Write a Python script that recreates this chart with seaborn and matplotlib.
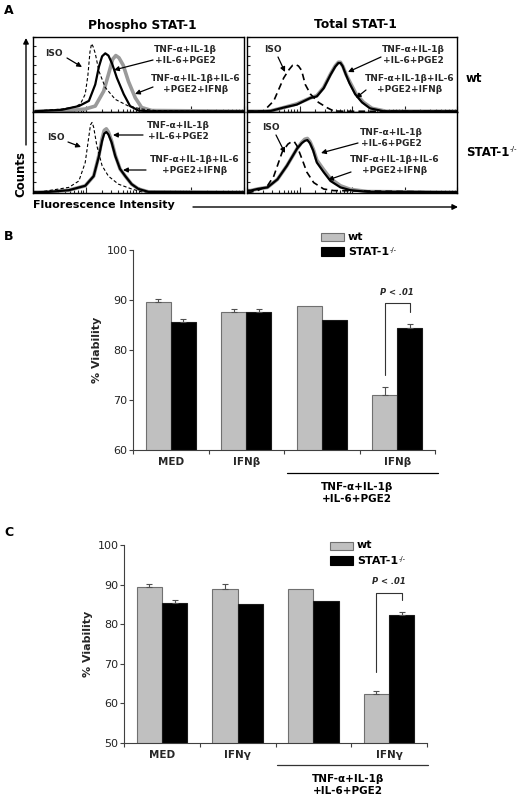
import numpy as np
import pandas as pd
import matplotlib
matplotlib.use('Agg')
import matplotlib.pyplot as plt
import seaborn as sns
from matplotlib.ticker import MultipleLocator, FixedLocator, NullFormatter

sns.set_style('white')
plt.rcParams['font.family'] = ['DejaVu Sans']

W, H = 528, 799

# ---------------- panel A data: x = log10 fluorescence, y = % of box height
# phospho STAT-1, wt
pw_iso_x = [0.0, 0.18, 0.55, 0.80, 0.90, 0.99, 1.04, 1.08, 1.11, 1.14, 1.18, 1.25, 1.37, 1.56, 1.81, 2.06, 2.31, 3.07, 4.0]
pw_iso_y = [0, 1, 3, 6, 10, 23, 48, 80, 91, 87, 78, 54, 32, 16, 7, 3, 1, 0, 0]
pw_blk_x = [0.05, 0.55, 0.87, 1.06, 1.18, 1.25, 1.31, 1.37, 1.43, 1.50, 1.59, 1.72, 1.84, 2.0, 2.19, 4.0]
pw_blk_y = [0, 2, 7, 14, 36, 60, 74, 78, 75, 64, 45, 23, 7, 1, 0, 0]
pw_gry_x = [0.05, 0.68, 0.99, 1.18, 1.34, 1.44, 1.51, 1.57, 1.63, 1.71, 1.81, 1.94, 2.06, 2.25, 4.0]
pw_gry_y = [0, 1, 3, 7, 27, 52, 70, 75, 72, 62, 40, 18, 5, 1, 0]
# total STAT-1, wt
tw_iso_x = [0.0, 0.20, 0.32, 0.51, 0.70, 0.80, 0.87, 0.92, 0.98, 1.04, 1.11, 1.21, 1.36, 1.52, 1.65, 1.84, 4.0]
tw_iso_y = [0, 0, 0.4, 14, 45, 56, 62, 63, 61, 55, 36, 23, 12, 5, 0.4, 0, 0]
tw_blk_x = [0.0, 0.32, 0.45, 0.70, 0.95, 1.21, 1.33, 1.46, 1.59, 1.68, 1.74, 1.78, 1.82, 1.88, 1.95, 2.06, 2.19, 2.34, 2.60, 4.0]
tw_blk_y = [0, 0, 0.4, 5, 9, 18, 20, 31, 49, 60, 65, 65, 61, 50, 38, 23, 12, 4, 0, 0]
tw_gry_x = [0.0, 0.30, 0.45, 0.70, 0.95, 1.21, 1.33, 1.46, 1.59, 1.68, 1.74, 1.78, 1.83, 1.89, 1.97, 2.08, 2.22, 2.38, 2.65, 4.0]
tw_gry_y = [0, 0, 0.5, 5, 10, 18, 21, 32, 50, 61, 66, 66, 60, 49, 38, 23, 12, 4, 0, 0]
# phospho STAT-1, STAT-1-/-
pk_iso_x = [0.0, 0.11, 0.30, 0.68, 0.87, 0.99, 1.06, 1.09, 1.12, 1.15, 1.21, 1.31, 1.43, 1.62, 1.87, 2.06, 4.0]
pk_iso_y = [0, 0, 2, 6, 14, 37, 70, 84, 87, 81, 58, 33, 20, 10, 4, 0.4, 0]
pk_blk_x = [0.0, 0.11, 0.30, 0.68, 0.99, 1.15, 1.25, 1.31, 1.35, 1.39, 1.43, 1.49, 1.56, 1.65, 1.75, 1.87, 2.0, 2.19, 4.0]
pk_blk_y = [0, 0, 0.4, 2.5, 8, 20, 45, 64, 73, 75, 72, 62, 45, 29, 20, 10, 4, 0.4, 0]
pk_gry_x = [0.0, 0.11, 0.30, 0.68, 0.99, 1.15, 1.25, 1.31, 1.35, 1.39, 1.43, 1.49, 1.56, 1.65, 1.75, 1.87, 2.0, 2.19, 4.0]
pk_gry_y = [0, 0, 0.4, 2.5, 8, 20, 46, 67, 77, 79, 75, 64, 46, 29, 20, 10, 4, 0.4, 0]
# total STAT-1, STAT-1-/-
tk_iso_x = [0.0, 0.07, 0.20, 0.39, 0.51, 0.67, 0.78, 0.85, 0.90, 0.95, 1.05, 1.14, 1.27, 1.46, 1.65, 4.0]
tk_iso_y = [0, 0, 2, 8, 20, 50, 60, 63, 63, 58, 41, 25, 12, 4, 2, 0]
tk_blk_x = [0.0, 0.07, 0.20, 0.39, 0.58, 0.76, 0.95, 1.04, 1.10, 1.15, 1.20, 1.26, 1.33, 1.46, 1.59, 1.78, 1.97, 2.3, 4.0]
tk_blk_y = [2, 2, 4, 6, 16, 33, 54, 61, 64, 65, 61, 52, 37, 25, 14, 6, 2.5, 0.5, 0]
tk_gry_x = [0.0, 0.07, 0.20, 0.39, 0.58, 0.76, 0.95, 1.04, 1.10, 1.15, 1.20, 1.26, 1.33, 1.46, 1.59, 1.78, 1.97, 2.3, 4.0]
tk_gry_y = [2, 2, 4, 6, 16, 33, 54, 62, 66, 67, 63, 54, 40, 28, 17, 8, 3.5, 0.8, 0]

# ---------------- panels B and C data
groups = ['MED', 'IFN', 'combo', 'combo+IFN']
b_wt = [89.5, 87.5, 88.8, 71.0]
b_ko = [85.5, 87.5, 85.9, 84.4]
b_wt_err = [0.6, 0.6, np.nan, 1.5]
b_ko_err = [0.7, 0.7, np.nan, 0.7]
b_ticklabels = ['MED', 'IFNβ', '', 'IFNβ']

c_wt = [89.5, 88.9, 88.8, 62.4]
c_ko = [85.4, 85.0, 85.9, 82.4]
c_wt_err = [0.6, 1.3, np.nan, 0.8]
c_ko_err = [0.7, np.nan, np.nan, 0.8]
c_ticklabels = ['MED', 'IFNγ', '', 'IFNγ']

strains = ['wt', 'STAT-1-/-']
combo_label = 'TNF-α+IL-1β\n+IL-6+PGE2'

fig = plt.figure(figsize=(W / 100, H / 100), dpi=100)


def box(x0, y0, x1, y1):
    return fig.add_axes([x0 / W, 1 - y1 / H, (x1 - x0) / W, (y1 - y0) / H])


def histo(ax, iso, blk, gry, iso_lw, iso_dash):
    sns.lineplot(x=10 ** np.array(gry[0]), y=gry[1], ax=ax, color='#9a9a9a', lw=2.6, sort=False)
    sns.lineplot(x=10 ** np.array(blk[0]), y=blk[1], ax=ax, color='black', lw=1.6, sort=False)
    sns.lineplot(x=10 ** np.array(iso[0]), y=iso[1], ax=ax, color='black', lw=iso_lw,
                 linestyle=(0, iso_dash), sort=False)
    ax.set_xscale('log')
    ax.set_xlim(1, 1e4)
    ax.set_ylim(-1, 100)
    ax.yaxis.set_major_locator(MultipleLocator(12.5))
    ax.set_xticklabels([])
    ax.set_yticklabels([])
    ax.xaxis.set_minor_formatter(NullFormatter())
    ax.tick_params(axis='both', which='both', direction='in', length=2, width=0.8,
                   top=False, right=False, bottom=True, left=True)
    ax.tick_params(axis='x', which='major', length=4)
    ax.set_xlabel('')
    ax.set_ylabel('')
    for s in ax.spines.values():
        s.set_color('black')
        s.set_linewidth(1.0)


ax_pw = box(33, 37, 244, 112)
ax_tw = box(247, 37, 457, 112)
ax_pk = box(33, 112, 244, 193)
ax_tk = box(247, 112, 457, 193)
histo(ax_pw, (pw_iso_x, pw_iso_y), (pw_blk_x, pw_blk_y), (pw_gry_x, pw_gry_y), 0.8, (3, 2))
histo(ax_tw, (tw_iso_x, tw_iso_y), (tw_blk_x, tw_blk_y), (tw_gry_x, tw_gry_y), 1.2, (4, 2.5))
histo(ax_pk, (pk_iso_x, pk_iso_y), (pk_blk_x, pk_blk_y), (pk_gry_x, pk_gry_y), 0.8, (3, 2))
histo(ax_tk, (tk_iso_x, tk_iso_y), (tk_blk_x, tk_blk_y), (tk_gry_x, tk_gry_y), 1.2, (4, 2.5))


def bars(ax, wt, ko, wt_err, ko_err, ticklabels, ymin):
    df = pd.DataFrame({'group': groups * 2,
                       'strain': [strains[0]] * 4 + [strains[1]] * 4,
                       'value': wt + ko})
    sns.barplot(data=df, x='group', y='value', hue='strain', hue_order=strains,
                palette=['#c0c0c0', '#000000'], errorbar=None, width=0.667, gap=0,
                ax=ax, linewidth=0.8, legend=False)
    errs = list(wt_err) + list(ko_err)
    bar_patches = ax.patches[:8]
    for p, e in zip(bar_patches, errs):
        grey = p.get_facecolor()[0] > 0.5
        p.set_edgecolor('#707070' if grey else '#1a1a1a')
        if not np.isnan(e):
            ax.errorbar(p.get_x() + p.get_width() / 2, p.get_height(), yerr=[[0], [e]],
                        fmt='none', ecolor='#505050', elinewidth=0.8, capsize=2.2, capthick=0.8)
    ax.set_ylim(ymin, 100)
    ax.set_xlim(-0.5, 3.5)
    ax.yaxis.set_major_locator(MultipleLocator(10))
    ax.set_xticks(range(4))
    ax.set_xticklabels(ticklabels, fontweight='bold', fontsize=7.5)
    ax.xaxis.set_minor_locator(FixedLocator([-0.5, 0.5, 1.5, 2.5, 3.5]))
    ax.tick_params(axis='x', which='major', length=0, pad=5)
    ax.tick_params(axis='x', which='minor', length=3, width=0.8, color='#404040', bottom=True)
    ax.tick_params(axis='y', length=3, width=0.8, color='#404040', labelsize=8,
                   labelcolor='#222222', left=True, pad=1)
    ax.set_xlabel('')
    ax.set_ylabel('% Viability', fontweight='bold', fontsize=8, labelpad=3)
    sns.despine(ax=ax)
    for s in ('left', 'bottom'):
        ax.spines[s].set_color('#404040')
        ax.spines[s].set_linewidth(0.8)
    xw = bar_patches[3].get_x() + bar_patches[3].get_width() / 2
    xk = bar_patches[7].get_x() + bar_patches[7].get_width() / 2
    return xw, xk


ax_b = box(133, 250, 435, 450)
xw, xk = bars(ax_b, b_wt, b_ko, b_wt_err, b_ko_err, b_ticklabels, 60)
ax_b.plot([xw, xw, xk, xk], [75, 89.3, 89.3, 87.5], color='#333333', lw=0.8)
ax_b.text((xw + xk) / 2, 90.6, 'P < .01', ha='center', va='bottom', fontsize=6,
          fontweight='bold', fontstyle='italic')

ax_c = box(124, 545, 427, 743)
xw, xk = bars(ax_c, c_wt, c_ko, c_wt_err, c_ko_err, c_ticklabels, 50)
ax_c.plot([xw, xw, xk, xk], [68, 88, 88, 86], color='#333333', lw=0.8)
ax_c.text((xw + xk) / 2, 89.6, 'P < .01', ha='center', va='bottom', fontsize=6,
          fontweight='bold', fontstyle='italic')

# ---------------- overlay for labels, arrows and legends (pixel coords)
ov = fig.add_axes([0, 0, 1, 1])
ov.set_xlim(0, W)
ov.set_ylim(H, 0)
ov.axis('off')


def arr(x0, y0, x1, y1, lw=0.9, ms=7):
    ov.annotate('', xy=(x1, y1), xytext=(x0, y0),
                arrowprops=dict(arrowstyle='-|>', color='black', lw=lw, mutation_scale=ms,
                                shrinkA=0, shrinkB=0))


def ko_label(x, y, fs):
    t = ov.text(x, y, 'STAT-1', fontsize=fs, va='center', fontweight='bold', color='black')
    ov.annotate('-/-', xy=(1, 1), xycoords=t, xytext=(0.5, 0), textcoords='offset points',
                fontsize=fs * 0.6, va='top', ha='left', color='black')


bold = dict(fontweight='bold', color='black')
small = dict(fontweight='bold', fontsize=6.5, ha='center', va='center', linespacing=1.2)

ov.text(4, 10, 'A', fontsize=9, va='center', **bold)
ov.text(4, 237, 'B', fontsize=9, va='center', **bold)
ov.text(4, 533, 'C', fontsize=9, va='center', **bold)
ov.text(142, 25, 'Phospho STAT-1', fontsize=8.8, ha='center', va='center', **bold)
ov.text(355, 25, 'Total STAT-1', fontsize=8.8, ha='center', va='center', **bold)
ov.text(466, 79, 'wt', fontsize=8.5, va='center', **bold)
ko_label(466, 152, 8.5)

# axis arrows of panel A
arr(26, 145, 26, 38, lw=1.0, ms=8)
arr(193, 207, 458, 207, lw=1.0, ms=8)
ov.text(21, 174, 'Counts', rotation=90, fontsize=8.5, ha='center', va='center', **bold)
ov.text(33, 205, 'Fluorescence Intensity', fontsize=8, ha='left', va='center', **bold)

lab1 = 'TNF-α+IL-1β\n+IL-6+PGE2'
lab2 = 'TNF-α+IL-1β+IL-6\n+PGE2+IFNβ'
# phospho wt
ov.text(54, 54, 'ISO', **small)
arr(67, 58, 82, 67)
ov.text(185, 55, lab1, **small)
arr(153, 60, 114, 70)
ov.text(196, 84, lab2, **small)
arr(153, 87, 135, 94)
# total wt
ov.text(273, 50, 'ISO', **small)
arr(278, 57, 285, 72)
ov.text(413, 55, lab1, **small)
arr(381, 57, 348, 72)
ov.text(410, 84, lab2, **small)
arr(366, 90, 356, 98)
# phospho ko
ov.text(56, 137, 'ISO', **small)
arr(68, 142, 81, 147)
ov.text(178, 131, lab1, **small)
arr(143, 135, 113, 135)
ov.text(195, 165, lab2, **small)
arr(146, 170, 123, 170)
# total ko
ov.text(271, 128, 'ISO', **small)
arr(276, 135, 285, 153)
ov.text(391, 138, lab1, **small)
arr(358, 143, 321, 153)
ov.text(395, 165, lab2, **small)
arr(351, 172, 328, 180)

# combo underline labels
ov.plot([287, 438], [473, 473], color='black', lw=0.9)
ov.text(357, 493, combo_label, fontsize=7.5, ha='center', va='center', linespacing=1.3, **bold)
ov.plot([277, 428], [765, 765], color='#333333', lw=0.9)
ov.text(348, 785, combo_label, fontsize=7.5, ha='center', va='center', linespacing=1.3, **bold)

# legends of B and C
for (lx, ly) in [(321, 233), (330, 542)]:
    ov.add_patch(plt.Rectangle((lx, ly), 23, 8, facecolor='#c0c0c0', edgecolor='#707070', lw=0.8))
    ov.add_patch(plt.Rectangle((lx, ly + 14), 23, 9, facecolor='black', edgecolor='black', lw=0.8))
    ov.text(lx + 27, ly + 3.5, strains[0], fontsize=8, va='center', **bold)
    ko_label(lx + 27, ly + 19, 8)

fig.savefig('out.png', dpi=100)
